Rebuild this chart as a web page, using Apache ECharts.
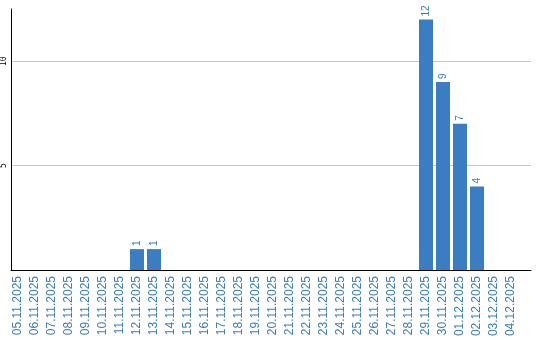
<!DOCTYPE html>
<html><head><meta charset="utf-8">
<script src="https://cdn.jsdelivr.net/npm/echarts@6/dist/echarts.min.js"></script>
<style>html,body{margin:0;padding:0;background:#fff}#c{width:540px;height:340px}</style>
</head><body><div id="c"></div>
<script>
const categories = ["05.11.2025","06.11.2025","07.11.2025","08.11.2025","09.11.2025","10.11.2025","11.11.2025","12.11.2025","13.11.2025","14.11.2025","15.11.2025","16.11.2025","17.11.2025","18.11.2025","19.11.2025","20.11.2025","21.11.2025","22.11.2025","23.11.2025","24.11.2025","25.11.2025","26.11.2025","27.11.2025","28.11.2025","29.11.2025","30.11.2025","01.12.2025","02.12.2025","03.12.2025","04.12.2025"];
const values = [0,0,0,0,0,0,0,1,1,0,0,0,0,0,0,0,0,0,0,0,0,0,0,0,12,9,7,4,0,0];
const yTickLabels = ["5","10"];

const blue = '#3a7dc2';
const chart = echarts.init(document.getElementById('c'), null, {renderer:'canvas'});
chart.setOption({
  animation:false,
  grid:[
    {left:10,right:9,top:9,bottom:70,containLabel:false},
    {left:9.5,right:20.5,top:9,bottom:70,containLabel:false}
  ],
  xAxis:[
    {gridIndex:0,type:'category',data:categories,
      axisLine:{lineStyle:{color:'#000',width:1}},
      axisTick:{show:false},axisLabel:{show:false}},
    {gridIndex:1,type:'category',data:categories,
      axisLine:{show:false},axisTick:{show:false},
      axisLabel:{rotate:90,interval:0,color:blue,fontFamily:'Liberation Sans',fontSize:12,margin:6}}
  ],
  yAxis:[
    {gridIndex:0,type:'value',min:0,max:12.5,interval:5,
      axisLine:{show:true,lineStyle:{color:'#000',width:1}},
      axisTick:{show:false},
      splitLine:{show:true,showMinLine:false,showMaxLine:false,lineStyle:{color:'#c8c8c8',width:1}},
      axisLabel:{rotate:90,color:'#000',fontFamily:'DejaVu Sans Mono',fontSize:8,margin:3,showMaxLabel:false,
        formatter:function(v){return yTickLabels.indexOf(String(v))>=0?String(v):'';}}},
    {gridIndex:1,type:'value',min:0,max:12.5,interval:5,show:false,splitLine:{show:false}}
  ],
  series:[{type:'bar',xAxisIndex:1,yAxisIndex:1,data:values.map(v=>v===0?null:v),barWidth:14,
    itemStyle:{color:blue},
    label:{show:true,position:'top',rotate:90,align:'left',verticalAlign:'middle',distance:3,
      color:blue,fontFamily:'Liberation Sans',fontSize:10}}]
});
</script></body></html>
